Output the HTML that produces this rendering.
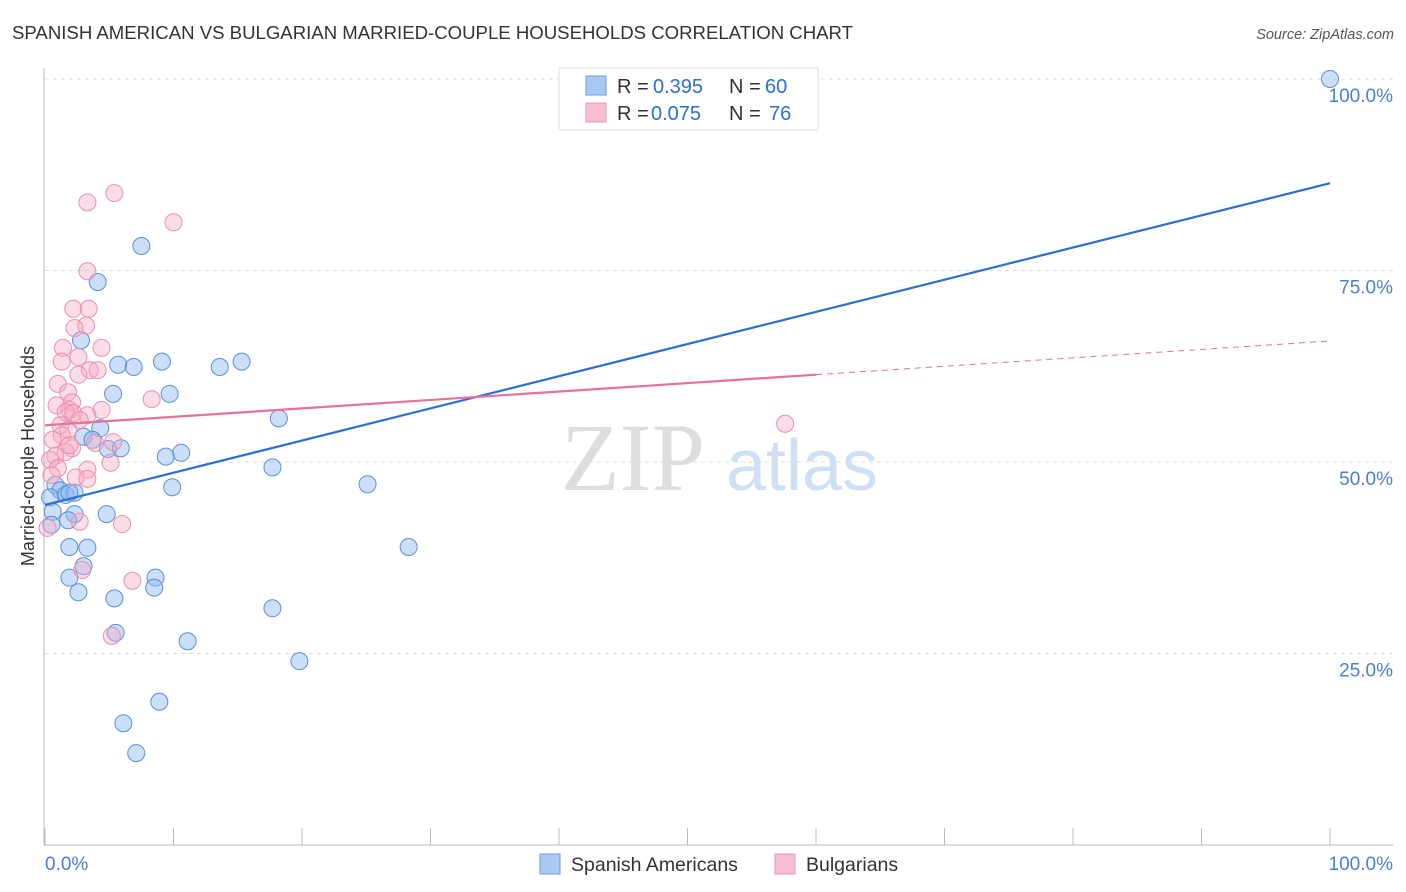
<!DOCTYPE html>
<html><head><meta charset="utf-8"><style>
body{margin:0;background:#fff;font-family:"Liberation Sans",sans-serif}
svg{display:block}
</style></head><body>
<svg width="1406" height="892" viewBox="0 0 1406 892">
<text x="12" y="39" font-size="18" fill="#333" textLength="841" lengthAdjust="spacingAndGlyphs">SPANISH AMERICAN VS BULGARIAN MARRIED-COUPLE HOUSEHOLDS CORRELATION CHART</text>
<text x="1394" y="39" font-size="14.5" fill="#555" font-style="italic" text-anchor="end">Source: ZipAtlas.com</text>
<g id="grid"></g>
<g>
<text x="633" y="490" font-size="96" font-family="Liberation Serif,serif" fill="#ddd" text-anchor="middle">ZIP</text>
<text x="802" y="490" font-size="72" fill="#cfe0f5" text-anchor="middle">atlas</text>
</g>
<g id="axes"></g>
<g id="pts"></g>
<g id="lines"></g>
<text x="34" y="456" font-size="18" fill="#333" text-anchor="middle" transform="rotate(-90 34 456)">Married-couple Households</text>
<g>
<rect x="559" y="68" width="259" height="62" fill="#fff" stroke="#ddd"/>
<rect x="586" y="76" width="20" height="19" fill="#a9c9f2" stroke="#6f9be0"/>
<rect x="586" y="103" width="20" height="19" fill="#f8bfd0" stroke="#eb93ae"/>
<text x="617" y="93" font-size="20" fill="#333">R =</text>
<text x="653" y="93" font-size="20" fill="#2a6fd6">0.395</text>
<text x="729" y="93" font-size="20" fill="#333">N =</text>
<text x="765" y="93" font-size="20" fill="#2a6fd6">60</text>
<text x="617" y="120" font-size="20" fill="#333">R =</text>
<text x="651" y="120" font-size="20" fill="#2a6fd6">0.075</text>
<text x="729" y="120" font-size="20" fill="#333">N =</text>
<text x="769" y="120" font-size="20" fill="#2a6fd6">76</text>
</g>
<g>
<rect x="540" y="854" width="20" height="20" fill="#a9c9f2" stroke="#6f9be0"/>
<text x="571" y="871" font-size="19.5" fill="#333">Spanish Americans</text>
<rect x="775" y="854" width="20" height="20" fill="#f8bfd0" stroke="#eb93ae"/>
<text x="806" y="871" font-size="19.5" fill="#333">Bulgarians</text>
</g>
</svg>
<script>
const yTicks=[25,50,75,100];
const yTickLabels=["25.0%","50.0%","75.0%","100.0%"];
const blueX=[100,7.5,4.1,2.8,5.7,6.9,9.1,13.6,15.3,5.3,9.7,18.2,4.3,3.0,3.7,4.9,5.9,9.4,10.6,17.7,9.9,25.1,0.8,1.2,1.6,2.3,1.9,0.4,0.6,2.3,4.8,1.8,0.5,1.9,3.3,28.3,3.0,1.9,8.6,8.5,2.6,5.4,17.7,5.5,11.1,19.8,8.9,6.1,7.1];
const blueY=[100,78.2,73.5,65.9,62.7,62.4,63.1,62.4,63.1,58.9,58.9,55.7,54.4,53.3,52.9,51.7,51.8,50.7,51.2,49.3,46.7,47.1,47.0,46.3,45.7,46.0,46.0,45.4,43.5,43.2,43.2,42.4,41.8,38.9,38.8,38.9,36.4,34.9,34.9,33.6,33.0,32.2,30.9,27.7,26.6,24.0,18.7,15.9,12.0];
const pinkX=[5.4,3.3,10.0,3.3,2.2,3.4,3.2,2.3,1.4,4.4,2.6,1.3,3.5,4.1,2.6,1.0,1.8,8.3,2.1,0.9,1.9,4.4,1.6,2.2,3.3,1.2,1.8,1.3,0.6,5.3,2.1,1.6,0.8,0.4,5.1,1.0,3.3,0.5,2.4,3.3,57.6,2.7,6.0,0.2,2.9,6.8,5.2,1.9,2.7,3.9];
const pinkY=[85.1,83.9,81.3,74.9,70.0,70.0,67.8,67.5,64.9,64.9,63.7,63.1,62.0,62.0,61.4,60.2,59.1,58.2,57.8,57.4,56.8,56.8,56.5,56.4,56.1,54.8,54.2,53.5,52.9,52.6,51.8,51.3,50.8,50.3,49.9,49.2,49.0,48.3,48.0,47.8,55.0,42.2,41.9,41.4,35.9,34.5,27.3,52.2,55.5,52.5];
const blueLine=[44.4,86.4];
const pinkLine=[54.8,65.8];
const pinkSolidEnd=60;
const NS="http://www.w3.org/2000/svg";
const sx=v=>45+v*12.85, sy=v=>845-v*7.66;
function mk(t,a,p){const e=document.createElementNS(NS,t);for(const k in a)e.setAttribute(k,a[k]);p.appendChild(e);return e;}
const grid=document.getElementById('grid'),axes=document.getElementById('axes'),pts=document.getElementById('pts'),lines=document.getElementById('lines');
yTicks.forEach((t,i)=>{
 const g=mk('line',{x1:45,x2:1393,y1:sy(t),y2:sy(t),stroke:'#ddd','stroke-dasharray':'4 4'},grid);
 
 
 const l=mk('text',{x:1393,y:sy(t)+23,'font-size':19,fill:'#4a7fd0','text-anchor':'end'},axes);
 l.textContent=yTickLabels[i];
 
 
});
const ax=mk('path',{d:'M44 68V845H1393',fill:'none',stroke:'#bbb'},axes);


for(let i=0;i<=10;i++){
 const t=mk('line',{x1:sx(i*10),x2:sx(i*10),y1:828,y2:845,stroke:'#bbb'},axes);
 
 
}
[['0.0%',45,'start'],['100.0%',1393,'end']].forEach(a=>{
 const l=mk('text',{x:a[1],y:870,'font-size':19,fill:'#4a7fd0','text-anchor':a[2]},axes);
 l.textContent=a[0];
 
 
});
blueX.forEach((x,i)=>{
 const c=mk('circle',{cx:sx(x),cy:sy(blueY[i]),r:8.5,fill:'rgba(140,185,240,0.45)',stroke:'#5b8fdb','stroke-width':1},pts);
 
 
});
pinkX.forEach((x,i)=>{
 const c=mk('circle',{cx:sx(x),cy:sy(pinkY[i]),r:8.5,fill:'rgba(245,170,195,0.4)',stroke:'#eb90ad','stroke-width':1},pts);
 
 
});
const bl=mk('line',{x1:sx(0),y1:sy(blueLine[0]),x2:sx(100),y2:sy(blueLine[1]),stroke:'#2a6fd6','stroke-width':2.2},lines);


const pm=pinkLine[0]+(pinkLine[1]-pinkLine[0])*pinkSolidEnd/100;
const pl=mk('line',{x1:sx(0),y1:sy(pinkLine[0]),x2:sx(pinkSolidEnd),y2:sy(pm),stroke:'#e8709a','stroke-width':2.2},lines);


const pd=mk('line',{x1:sx(pinkSolidEnd),y1:sy(pm),x2:sx(100),y2:sy(pinkLine[1]),stroke:'#e8709a','stroke-width':1,'stroke-dasharray':'6 5'},lines);


</script>
</body></html>
